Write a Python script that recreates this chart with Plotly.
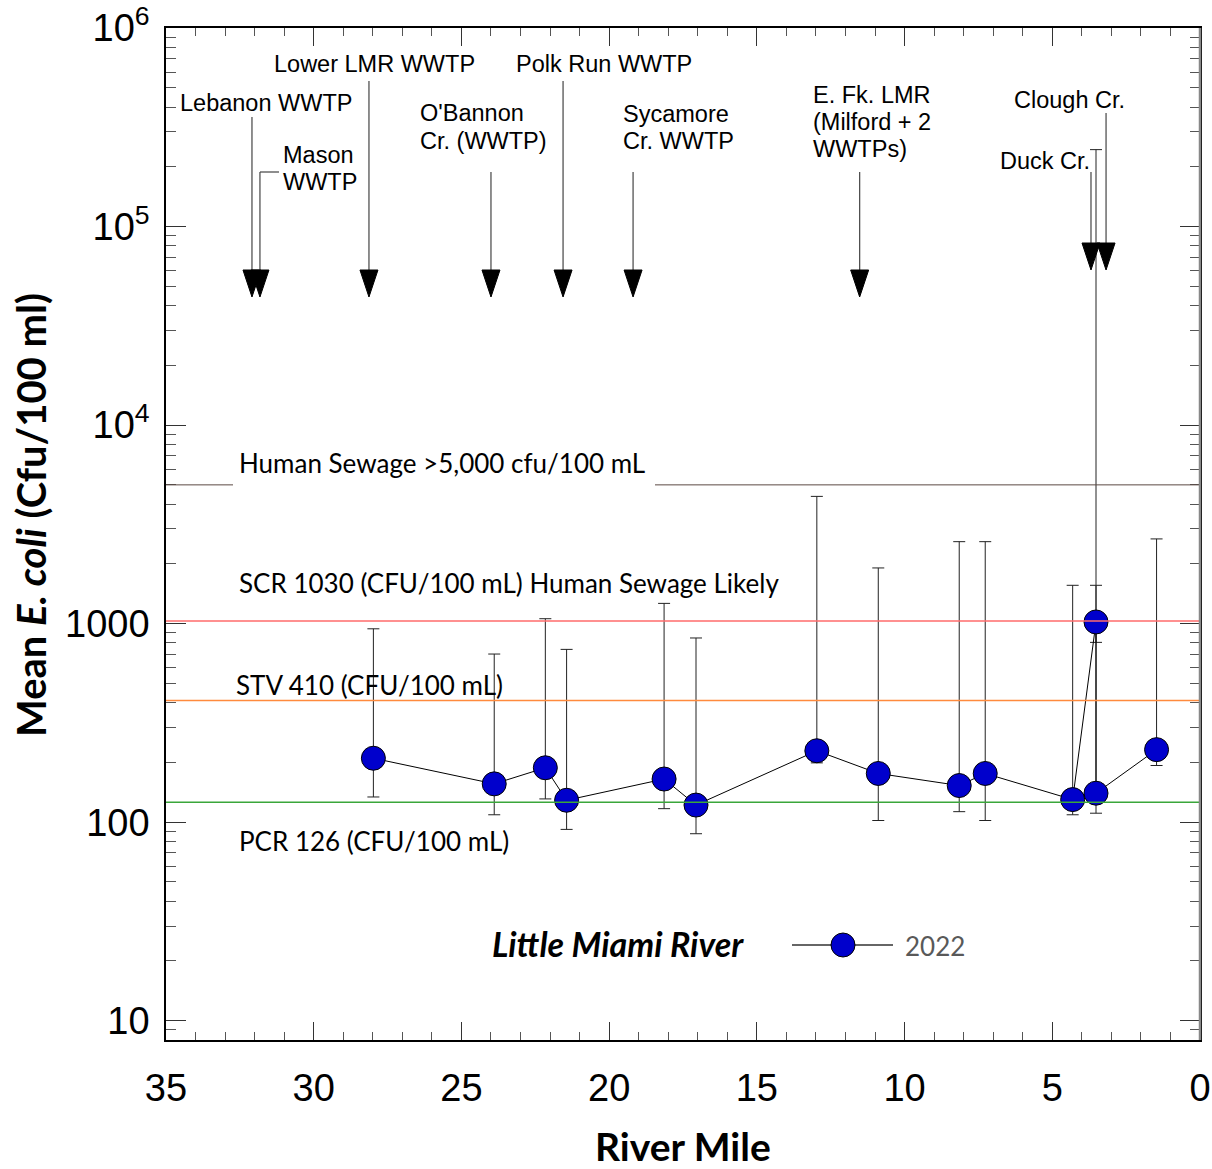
import math
import plotly.graph_objects as go

# ---- data -------------------------------------------------------------
river_mile = [27.98, 23.89, 22.16, 21.44, 18.14, 17.06, 12.97, 10.89, 8.15, 7.27, 4.31, 3.52, 3.52, 1.47]
mean_ecoli = [210, 156, 188, 129, 165, 122, 229, 176, 153, 176, 130, 1020, 140, 232]
ecoli_upper = [942, 703, 1059, 742, 1265, 847, 4375, 1908, 2588, 2588, 1560, 244000, 1560, 2672]
ecoli_lower = [134, 109, 131, 92, 117, 87.5, 199, 102, 113, 102, 109, 805, 111, 193]

# criteria / reference levels (cfu per 100 mL)
criteria_names = ["Human Sewage >5,000 cfu/100 mL",
                  "SCR 1030 (CFU/100 mL) Human Sewage Likely",
                  "STV 410 (CFU/100 mL)",
                  "PCR 126 (CFU/100 mL)"]
criteria_values = [5000, 1030, 410, 126]
criteria_colors = ["#5b4a44", "#ff6b6b", "#ff8a3d", "#3aa63a"]

# discharges / tributaries entering the river
outfall_names = ["Lebanon WWTP", "Mason<br>WWTP", "Lower LMR WWTP", "O'Bannon<br>Cr. (WWTP)",
                 "Polk Run WWTP", "Sycamore<br>Cr. WWTP", "E. Fk. LMR<br>(Milford + 2<br>WWTPs)",
                 "Duck Cr.", "Clough Cr."]
outfall_mile = [32.09, 31.82, 28.13, 24.0, 21.56, 19.19, 11.52, 3.69, 3.18]

y_tickvals = [10, 100, 1000, 1e4, 1e5, 1e6]
y_ticktext = ["10", "100", "1000", "10<sup>4</sup>", "10<sup>5</sup>", "10<sup>6</sup>"]
series_name = "2022"
river_name = "Little Miami River"

# ---- layout geometry (pixels) ----------------------------------------
W, H = 1212, 1169
L, R, T, B = 166, 1200, 28, 1040


def pxx(x):
    return (x - L) / (R - L)


def pxy(y):
    return (B - y) / (B - T)


ARIAL = "Liberation Sans, Arial, sans-serif"
CAL = "Lato, Open Sans, sans-serif"

fig = go.Figure()

fig.add_trace(go.Scatter(
    x=river_mile, y=mean_ecoli, mode="lines+markers", name=series_name,
    line=dict(color="black", width=1),
    marker=dict(size=24, color="#0000cc", line=dict(color="black", width=1)),
    error_y=dict(type="data", symmetric=False,
                 array=[u - m for u, m in zip(ecoli_upper, mean_ecoli)],
                 arrayminus=[m - lo for m, lo in zip(mean_ecoli, ecoli_lower)],
                 color="#222222", thickness=1, width=6),
    showlegend=False,
))

shapes = []
annotations = []

# criteria lines and their labels
label_px = [(237, 463), (237, 583), (234, 685), (237, 841)]
for name, val, col, (lx, ly) in zip(criteria_names, criteria_values, criteria_colors, label_px):
    if val == criteria_values[0]:
        segs = [(0, pxx(233)), (pxx(655), 1)]
        width = 1
    else:
        segs = [(0, 1)]
        width = 1.5
    for a, b in segs:
        shapes.append(dict(type="line", xref="paper", yref="y", x0=a, x1=b, y0=val, y1=val,
                           line=dict(color=col, width=width)))
    annotations.append(dict(text=name, xref="paper", yref="paper", x=pxx(lx), y=pxy(ly),
                            xanchor="left", yanchor="middle", showarrow=False,
                            font=dict(family=CAL, size=26, color="black")))

# outfall arrows
arrow_top = [117, 172, 81, 172, 81, 172, 172, 172, 113]
arrow_tip = [297, 297, 297, 297, 297, 297, 297, 270, 270]
for m, top, tip in zip(outfall_mile, arrow_top, arrow_tip):
    shapes.append(dict(type="line", xref="x", yref="paper", x0=m, x1=m,
                       y0=pxy(top), y1=pxy(tip - 20), line=dict(color="#444444", width=1.2)))
    shapes.append(dict(type="path", xref="x", yref="paper", xsizemode="pixel", ysizemode="pixel",
                       xanchor=m, yanchor=pxy(tip), path="M -9,27 L 9,27 L 0,0 Z",
                       fillcolor="black", line=dict(color="black", width=1)))
# small leader on the Mason label
shapes.append(dict(type="line", xref="paper", yref="paper", x0=pxx(260), x1=pxx(279),
                   y0=pxy(172), y1=pxy(172), line=dict(color="#444444", width=1.2)))

# outfall labels, one annotation per text line
label_lines = [
    ("Lebanon WWTP", 178, 103), ("Mason", 281, 155), ("WWTP", 281, 182),
    ("Lower LMR WWTP", 272, 64), ("O'Bannon", 418, 113), ("Cr. (WWTP)", 418, 141),
    ("Polk Run WWTP", 514, 64), ("Sycamore", 621, 114), ("Cr. WWTP", 621, 141),
    ("E. Fk. LMR", 811, 95), ("(Milford + 2", 811, 122), ("WWTPs)", 811, 149),
    ("Duck Cr.", 998, 161), ("Clough Cr.", 1012, 100),
]
for txt, lx, ly in label_lines:
    annotations.append(dict(text=txt, xref="paper", yref="paper", x=pxx(lx), y=pxy(ly),
                            xanchor="left", yanchor="middle", showarrow=False,
                            font=dict(family=ARIAL, size=23.5, color="black")))

# right frame edge
shapes.append(dict(type="line", xref="paper", yref="paper", x0=1, x1=1, y0=0, y1=1,
                   line=dict(color="#888888", width=2.5)))

# legend
shapes.append(dict(type="line", xref="paper", yref="paper", x0=pxx(792), x1=pxx(893),
                   y0=pxy(945), y1=pxy(945), line=dict(color="#666666", width=2)))
shapes.append(dict(type="circle", xref="paper", yref="paper", xsizemode="pixel", ysizemode="pixel",
                   xanchor=pxx(843), yanchor=pxy(945), x0=-12, x1=12, y0=-12, y1=12,
                   fillcolor="#0000cc", line=dict(color="black", width=1)))
annotations.append(dict(text=series_name, xref="paper", yref="paper", x=pxx(903), y=pxy(946),
                        xanchor="left", yanchor="middle", showarrow=False,
                        font=dict(family=CAL, size=26, color="#595959")))
annotations.append(dict(text="<b><i>" + river_name + "</i></b>", xref="paper", yref="paper",
                        x=pxx(490), y=pxy(943), xanchor="left", yanchor="middle", showarrow=False,
                        font=dict(family=CAL, size=34, color="black")))

# axis titles
annotations.append(dict(text="<b>River Mile</b>", xref="paper", yref="paper", x=pxx(683), y=pxy(1146),
                        xanchor="center", yanchor="middle", showarrow=False,
                        font=dict(family=CAL, size=39, color="black")))
annotations.append(dict(text="<b>Mean <i>E. coli</i> (Cfu/100 ml)</b>", xref="paper", yref="paper",
                        x=pxx(31), y=pxy(515), xanchor="center", yanchor="middle", textangle=-90,
                        showarrow=False, font=dict(family=CAL, size=40, color="black")))

fig.update_layout(
    width=W, height=H,
    margin=dict(l=L, r=W - R, t=T, b=H - B, pad=0, autoexpand=False),
    paper_bgcolor="white", plot_bgcolor="white",
    shapes=shapes, annotations=annotations, showlegend=False,
)

fig.update_xaxes(
    range=[35, 0], tickmode="linear", tick0=0, dtick=5, automargin=False,
    ticks="inside", ticklen=18, tickwidth=1, tickcolor="#333333",
    minor=dict(ticks="inside", ticklen=8, tickwidth=1, tickcolor="#555555", dtick=1, showgrid=False),
    showline=True, linecolor="black", linewidth=1.5, mirror="allticks",
    showgrid=False, zeroline=False,
    tickfont=dict(family=ARIAL, size=38, color="black"), ticklabelstandoff=14,
)
fig.update_yaxes(
    type="log", range=[math.log10(8), 6], automargin=False,
    tickvals=y_tickvals, ticktext=y_ticktext,
    ticks="inside", ticklen=20, tickwidth=1, tickcolor="#333333",
    minor=dict(ticks="inside", ticklen=10, tickwidth=1, tickcolor="#555555", dtick="D1", showgrid=False),
    showline=True, linecolor="black", linewidth=1.5, mirror="allticks",
    showgrid=False, zeroline=False,
    tickfont=dict(family=ARIAL, size=38, color="black"), ticklabelstandoff=7,
)

fig.write_html("out.html")
